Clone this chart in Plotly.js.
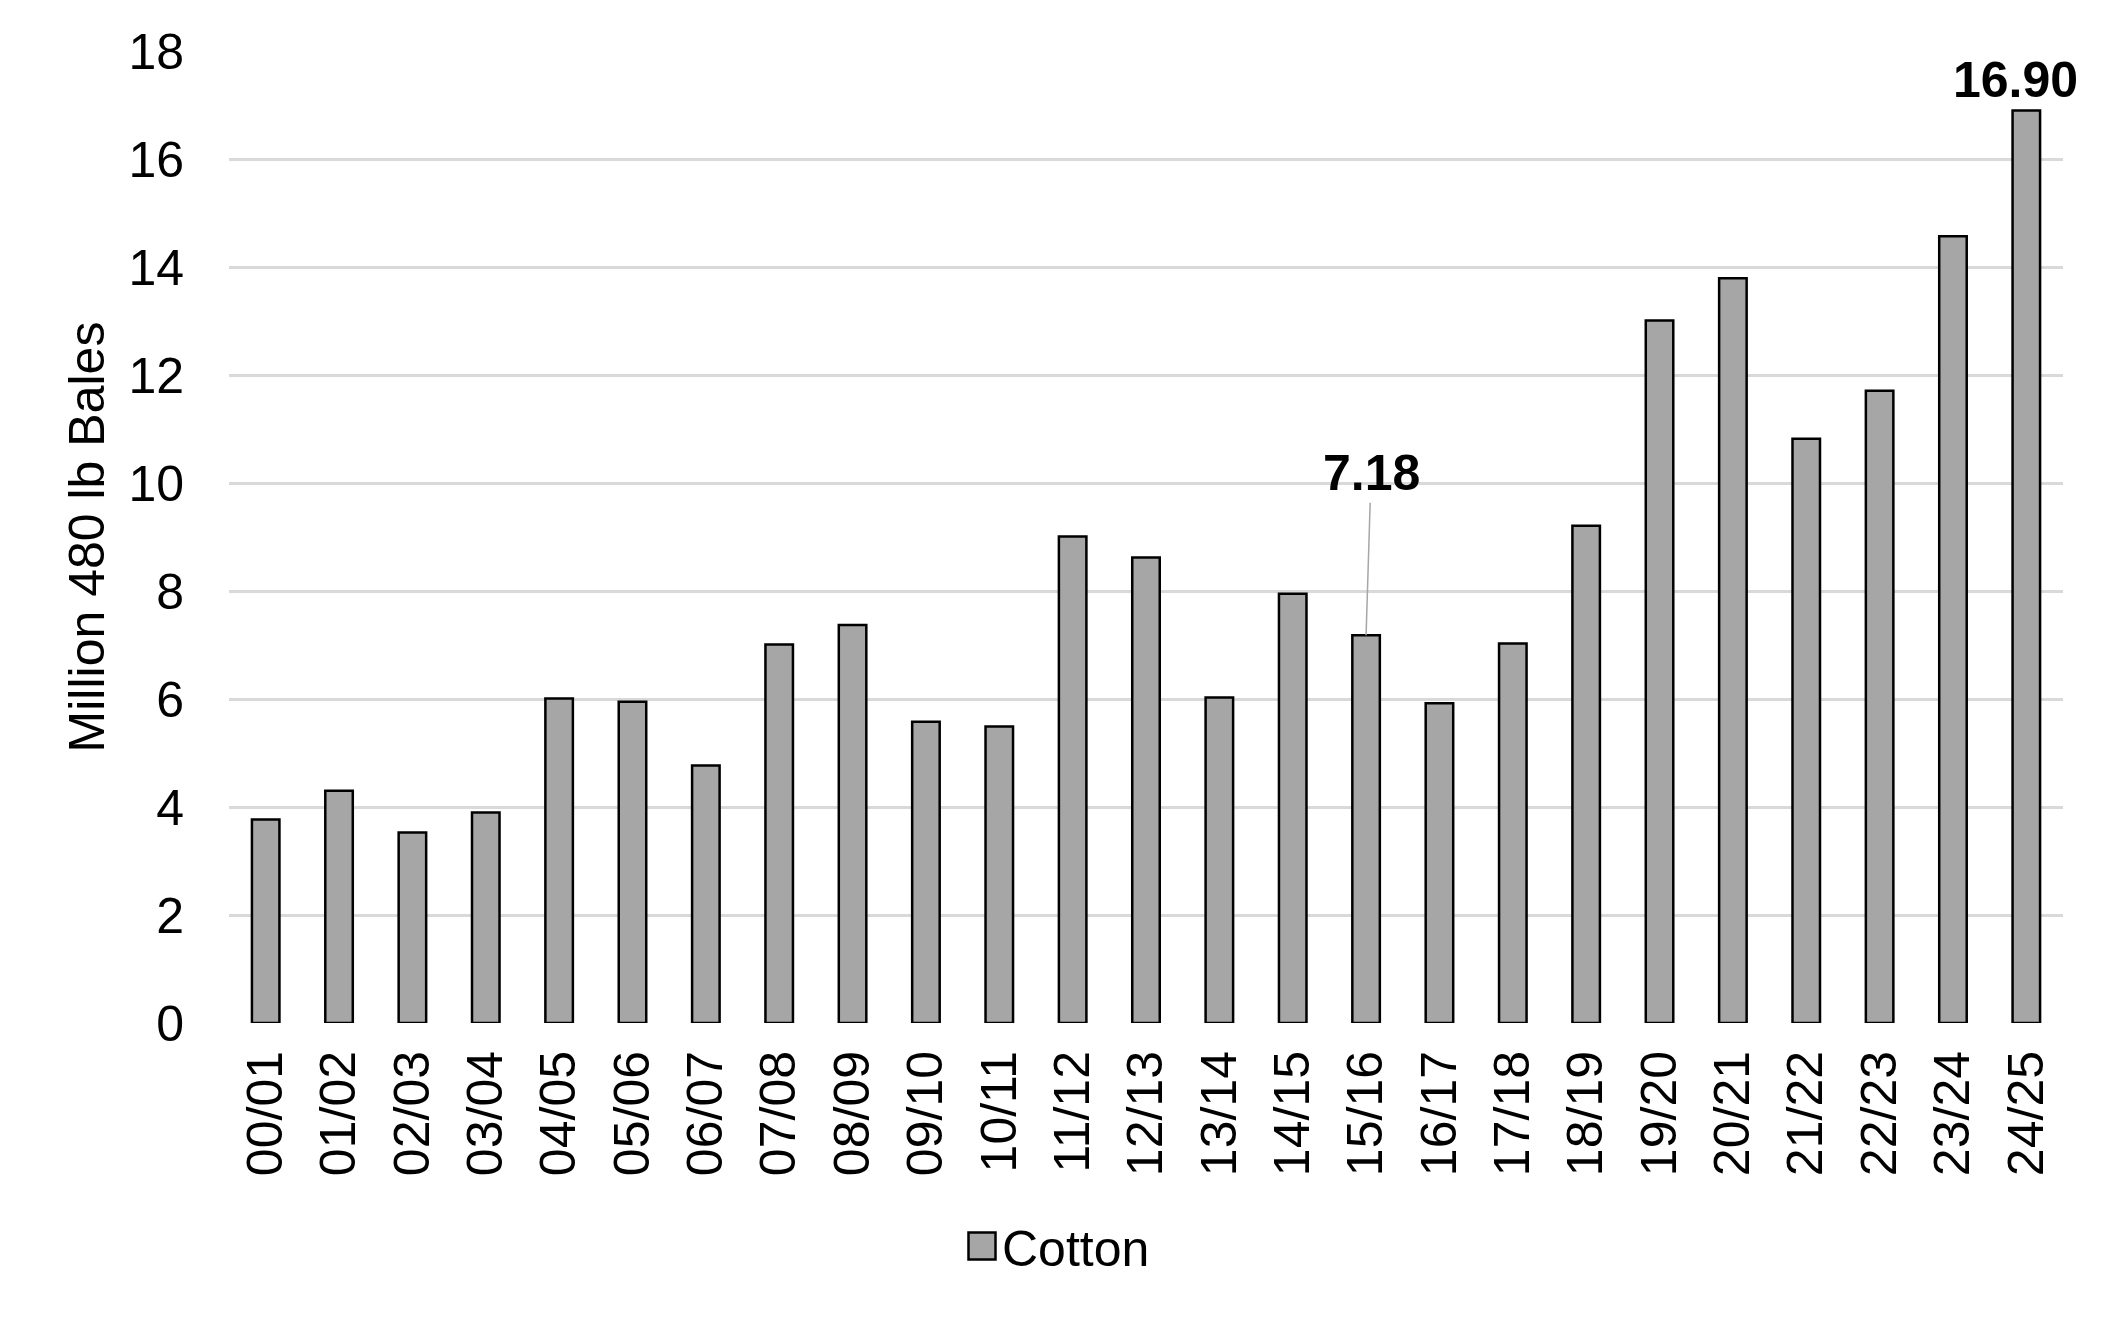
<!DOCTYPE html>
<html>
<head>
<meta charset="utf-8">
<script src="https://cdn.plot.ly/plotly-3.0.1.min.js"></script>
<style>
  html, body { margin: 0; padding: 0; background: #ffffff; }
  #chart { width: 2117px; height: 1320px; }
</style>
</head>
<body>
<div id="chart"></div>
<script>
const seasons = ["00/01","01/02","02/03","03/04","04/05","05/06","06/07","07/08","08/09","09/10",
                 "10/11","11/12","12/13","13/14","14/15","15/16","16/17","17/18","18/19","19/20",
                 "20/21","21/22","22/23","23/24","24/25"];
const cotton = [3.77, 4.30, 3.53, 3.90, 6.01, 5.95, 4.77, 7.01, 7.37, 5.58,
                5.49, 9.01, 8.62, 6.03, 7.95, 7.18, 5.92, 7.03, 9.21, 13.01,
                13.79, 10.82, 11.71, 14.57, 16.90];
const yTicks = [0, 2, 4, 6, 8, 10, 12, 14, 16, 18];
const seriesName = "Cotton";
const yTitle = "Million 480 lb Bales";
const labelMid = {season: "15/16", value: 7.18, text: "7.18"};
const labelEnd = {season: "24/25", value: 16.90, text: "16.90"};

const FONT = "Liberation Sans, Arial, Helvetica, sans-serif";

const trace = {
  type: "bar",
  x: seasons,
  y: cotton,
  name: seriesName,
  marker: { color: "#a6a6a6", line: { color: "#000000", width: 2.5 } },
  hoverinfo: "x+y"
};

const layout = {
  width: 2117,
  height: 1320,
  paper_bgcolor: "#ffffff",
  plot_bgcolor: "#ffffff",
  margin: { l: 229, r: 54, t: 51, b: 297, autoexpand: false },
  font: { family: FONT, size: 50, color: "#000000" },
  bargap: 0.625,
  showlegend: true,
  legend: {
    orientation: "h",
    xref: "container", x: 0.5, xanchor: "center",
    yref: "container", y: 0.056, yanchor: "middle",
    font: { family: FONT, size: 50, color: "#000000" },
    itemclick: false, itemdoubleclick: false
  },
  xaxis: {
    type: "category",
    range: [-0.5, seasons.length - 0.5],
    autorange: false,
    tickangle: -90,
    ticks: "",
    ticklabelstandoff: 17,
    showgrid: false,
    showline: false,
    zeroline: false,
    tickfont: { family: FONT, size: 50, color: "#000000" },
    automargin: false
  },
  yaxis: {
    range: [0, 18],
    autorange: false,
    tickvals: yTicks,
    ticktext: yTicks.map(String),
    ticks: "",
    ticklabelstandoff: 44,
    showgrid: true,
    gridcolor: "#d9d9d9",
    gridwidth: 2.5,
    zeroline: false,
    showline: false,
    tickfont: { family: FONT, size: 50, color: "#000000" },
    title: { text: yTitle, font: { family: FONT, size: 50, color: "#000000" }, standoff: 7 },
    automargin: false
  },
  annotations: [
    {
      x: labelMid.season, y: labelMid.value, xref: "x", yref: "y",
      text: "<b>" + labelMid.text + "</b>",
      showarrow: true, arrowhead: 0, arrowwidth: 1.5, arrowcolor: "#a6a6a6",
      ax: 5, ay: -162, standoff: 0,
      font: { family: FONT, size: 50, color: "#000000" }
    },
    {
      x: labelEnd.season, y: labelEnd.value, xref: "x", yref: "y",
      text: "<b>" + labelEnd.text + "</b>",
      showarrow: false, xanchor: "center", yanchor: "middle",
      xshift: -11, yshift: 30,
      font: { family: FONT, size: 50, color: "#000000" }
    }
  ]
};

function enlargeLegendSymbol(gd) {
  gd.querySelectorAll(".legend .legendpoints path").forEach(function (p) {
    p.setAttribute("d", "M13.5,13.5H-13.5V-13.5H13.5Z");
    p.style.strokeWidth = "2.5px";
  });
}

Plotly.newPlot("chart", [trace], layout, { displayModeBar: false }).then(function (gd) {
  enlargeLegendSymbol(gd);
  gd.on("plotly_afterplot", function () { enlargeLegendSymbol(gd); });
});
</script>
</body>
</html>
